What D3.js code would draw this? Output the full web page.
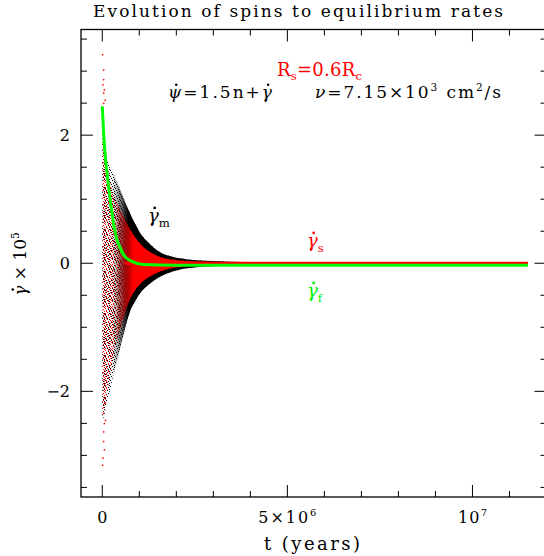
<!DOCTYPE html>
<html>
<head>
<meta charset="utf-8">
<script src="https://cdn.jsdelivr.net/npm/d3@7"></script>
<style>
  body { margin: 0; background: #fff; }
  text { font-family: "DejaVu Serif", "Liberation Serif", serif; }
</style>
</head>
<body>
<svg id="chart" width="544" height="556"></svg>
<script>
// time grid (years) for the envelopes of the scattered spin rates
const envT = [0, 0.04e6, 0.1e6, 0.2e6, 0.3e6, 0.45e6, 0.6e6, 0.75e6, 0.9e6, 1.05e6, 1.2e6, 1.4e6, 1.6e6, 1.9e6, 2.3e6, 2.8e6, 3.5e6, 4.5e6, 5.3e6];
// gamma_m (black points) outer envelope
const mUpper = [2.45, 2.2, 1.75, 1.5, 1.4, 1.2, 0.98, 0.78, 0.6, 0.45, 0.35, 0.24, 0.16, 0.1, 0.06, 0.04, 0.025, 0.015, 0.01];
const mLower = [-2.45, -2.4, -2.25, -2.0, -1.75, -1.4, -1.05, -0.75, -0.58, -0.45, -0.36, -0.27, -0.2, -0.13, -0.08, -0.05, -0.03, -0.018, -0.01];
// gamma_s (red points) envelope
const sUpper = [2.45, 2.1, 1.6, 1.3, 1.1, 0.88, 0.7, 0.53, 0.4, 0.29, 0.21, 0.14, 0.09, 0.055, 0.035, 0.022, 0.016, 0.012, 0.01];
const sLower = [-2.4, -2.3, -2.1, -1.8, -1.45, -1.1, -0.8, -0.56, -0.41, -0.31, -0.24, -0.17, -0.12, -0.075, -0.045, -0.03, -0.02, -0.014, -0.01];

// sparse red points near t = 0
const outT = [0, 0.03e6, 0.03e6, 0.01e6, 0.05e6, 0.03e6, 0.07e6, 0.03e6, 0, 0.01e6, 0.05e6, 0.03e6, 0.03e6, 0.05e6, 0.08e6, 0.03e6, 0.08e6];
const outV = [3.26, 3.02, 2.87, 2.79, 2.71, 2.66, 2.55, 2.5, -3.15, -3.04, -2.91, -2.78, -2.63, -2.5, -2.45, -2.34, -2.18];

// gamma_s mean (red) and gamma_f (green) curves
const sLineT = [0.6e6, 11.5e6];
const sLineV = [0.0, 0.0];
const fT = [0, 0.03e6, 0.07e6, 0.12e6, 0.17e6, 0.24e6, 0.34e6, 0.48e6, 0.62e6, 0.8e6, 1.1e6, 2e6, 11.5e6];
const fV = [2.45, 2.1, 1.75, 1.45, 1.2, 0.87, 0.5, 0.24, 0.1, 0.03, -0.02, -0.03, -0.03];

const xMajor = [0, 5e6, 10e6];
const xMinor = d3.range(0, 12e6, 1e6);
const yMajor = [-2, 0, 2];
const yMinor = d3.range(-3.5, 3.51, 0.5);

const svg = d3.select('#chart');
const frame = {left: 81, top: 29.5, right: 546.5, bottom: 497};
const x = d3.scaleLinear().domain([-0.575e6, 12.0e6]).range([frame.left, frame.right]);
const y = d3.scaleLinear().domain([-3.65, 3.65]).range([frame.bottom, frame.top]);

const defs = svg.append('defs');
defs.append('clipPath').attr('id', 'plotClip').append('rect')
    .attr('x', frame.left).attr('y', frame.top)
    .attr('width', frame.right - frame.left).attr('height', frame.bottom - frame.top);

// speckle textures for the mixed red/black cloud (two tiles of different size)
const speckle = (id, w, h, dots, color) => {
    const p = defs.append('pattern').attr('id', id)
        .attr('patternUnits', 'userSpaceOnUse').attr('width', w).attr('height', h);
    dots.forEach((d) => p.append('rect').attr('x', d[0]).attr('y', d[1])
        .attr('width', 1).attr('height', 1).attr('fill', color));
};
speckle('speckRed', 7, 7, [[0, 0], [3, 0], [5, 1], [1, 2], [4, 2], [6, 3], [2, 4], [0, 5], [5, 5], [3, 6], [1, 3], [6, 6]], '#f00');
speckle('speckBlack', 5, 6, [[2, 0], [4, 1], [0, 2], [3, 3], [1, 4], [4, 5]], '#000');

const fade = (id, color, t0, t1) => {
    const g = defs.append('linearGradient').attr('id', id)
        .attr('gradientUnits', 'userSpaceOnUse')
        .attr('x1', x(t0)).attr('x2', x(t1)).attr('y1', 0).attr('y2', 0);
    g.append('stop').attr('offset', 0).attr('stop-color', color).attr('stop-opacity', 0);
    g.append('stop').attr('offset', 1).attr('stop-color', color).attr('stop-opacity', 1);
};
fade('fadeBlack', '#000', 0.25e6, 0.7e6);
fade('fadeRed', '#f00', 0.35e6, 0.85e6);

const plot = svg.append('g').attr('clip-path', 'url(#plotClip)');

const band = (lo, hi) => d3.area()
    .x((d, i) => x(envT[i]))
    .y0((d, i) => y(lo[i]))
    .y1((d, i) => y(hi[i]))
    .curve(d3.curveMonotoneX)(envT);

plot.append('path').attr('d', band(mLower, mUpper)).attr('fill', 'url(#speckBlack)');
plot.append('path').attr('d', band(sLower, sUpper)).attr('fill', 'url(#speckRed)');
plot.append('path').attr('d', band(mLower, mUpper)).attr('fill', 'url(#fadeBlack)');
plot.append('path').attr('d', band(sLower, sUpper)).attr('fill', 'url(#fadeRed)');

plot.selectAll('.outlier').data(outT).enter().append('rect')
    .attr('class', 'outlier')
    .attr('x', (d) => x(d) - 0.5).attr('y', (d, i) => y(outV[i]) - 0.5)
    .attr('width', 1.5).attr('height', 1.5).attr('fill', '#f00');

const line = d3.line().curve(d3.curveMonotoneX);
plot.append('path')
    .attr('d', line(sLineT.map((t, i) => [x(t), y(sLineV[i])])))
    .attr('fill', 'none').attr('stroke', '#f00').attr('stroke-width', 3);
plot.append('path')
    .attr('d', line(fT.map((t, i) => [x(t), y(fV[i])])))
    .attr('fill', 'none').attr('stroke', '#00ff00').attr('stroke-width', 3);

// frame and ticks on all four sides
svg.append('rect')
    .attr('x', frame.left).attr('y', frame.top)
    .attr('width', frame.right - frame.left).attr('height', frame.bottom - frame.top)
    .attr('fill', 'none').attr('stroke', '#000').attr('stroke-width', 1.3);

const ticks = svg.append('g').attr('stroke', '#000').attr('stroke-width', 1);
xMinor.forEach((t) => {
    const len = xMajor.includes(t) ? 12 : 6;
    ticks.append('line').attr('x1', x(t)).attr('x2', x(t)).attr('y1', frame.bottom).attr('y2', frame.bottom - len);
    ticks.append('line').attr('x1', x(t)).attr('x2', x(t)).attr('y1', frame.top).attr('y2', frame.top + len);
});
yMinor.forEach((v) => {
    const len = yMajor.includes(v) ? 12 : 6;
    ticks.append('line').attr('x1', frame.left).attr('x2', frame.left + len).attr('y1', y(v)).attr('y2', y(v));
    ticks.append('line').attr('x1', frame.right).attr('x2', frame.right - len).attr('y1', y(v)).attr('y2', y(v));
});

// text with sub/superscripts: parts = [[text, 'sup'|'sub'|null, 'i'|'d']]
// 'd' = italic glyph with a dot above it (time derivative)
const rich = (px, py, size, parts, opts = {}) => {
    const g = svg.append('g');
    if (opts.transform) g.attr('transform', opts.transform);
    const fill = opts.fill || '#000';
    const t = g.append('text').attr('x', px).attr('y', py)
        .attr('font-size', size).attr('fill', fill)
        .attr('text-anchor', opts.anchor || 'start');
    if (opts.length) t.attr('textLength', opts.length).attr('lengthAdjust', 'spacing');
    let shift = 0;
    const dotted = [];
    parts.forEach(([s, kind, style]) => {
        let target = 0;
        let fs = size;
        if (kind === 'sup') { target = -size * 0.42; fs = size * 0.62; }
        if (kind === 'sub') { target = size * (opts.subShift || 0.3); fs = size * 0.65; }
        const sp = t.append('tspan').text(s).attr('font-size', fs).attr('dy', target - shift);
        if (style === 'i' || style === 'd') sp.attr('font-style', 'italic');
        if (style === 'd') dotted.push(sp);
        shift = target;
    });
    dotted.forEach((sp) => {
        const ext = sp.node().getExtentOfChar(0);
        g.append('circle')
            .attr('cx', ext.x + ext.width * 0.62)
            .attr('cy', py - size * 0.78)
            .attr('r', size * 0.075)
            .attr('fill', fill);
    });
    return g;
};

rich(298, 17, 17, [['Evolution of spins to equilibrium rates']], {anchor: 'middle', length: 410});

// tick labels
rich(x(0), 523, 16, [['0']], {anchor: 'middle'});
rich(x(5e6), 523, 16, [['5×10'], ['6', 'sup']], {anchor: 'middle', length: 58});
rich(x(10e6), 523, 16, [['10'], ['7', 'sup']], {anchor: 'middle', length: 29});
yMajor.forEach((v) => {
    rich(70, y(v) + 5.5, 16, [[v < 0 ? '\u2212' + Math.abs(v) : String(v)]], {anchor: 'end'});
});

rich(312, 550, 18, [['t (years)']], {anchor: 'middle', length: 96});
rich(264, 26, 17, [['\u03b3', null, 'd'], ['  × 10'], ['5', 'sup']],
    {anchor: 'middle', transform: 'translate(0,528) rotate(-90)'});

// annotations
rich(277, 76, 18, [['R'], ['s', 'sub'], ['=0.6R'], ['c', 'sub']], {fill: '#f00', length: 85, subShift: 0.2});
rich(168, 98, 17, [['\u03c8', null, 'd'], ['=1.5n+'], ['\u03b3', null, 'd']], {length: 104});
rich(315, 98, 17, [['\u03bd', null, 'i'], ['=7.15×10'], ['3', 'sup'], [' cm'], ['2', 'sup'], ['/s']], {length: 186});
rich(148, 222, 18, [['\u03b3', null, 'd'], ['m', 'sub']]);
rich(307, 247, 18, [['\u03b3', null, 'd'], ['s', 'sub']], {fill: '#f00'});
rich(307, 297, 18, [['\u03b3', null, 'd'], ['f', 'sub']], {fill: '#00ee00'});
</script>
</body>
</html>
